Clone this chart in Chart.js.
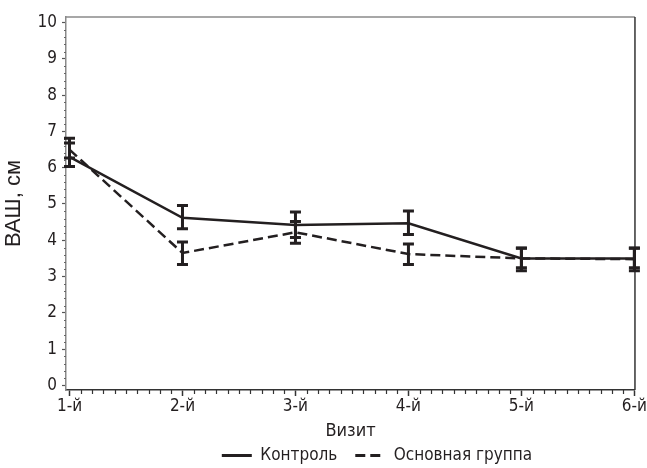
<!DOCTYPE html>
<html lang="ru">
  <head>
    <meta charset="UTF-8" />
    <title>ВАШ по визитам</title>
    <script src="https://cdn.jsdelivr.net/npm/chart.js"></script>
    <style>
      html, body { margin: 0; padding: 0; background: #fff; }
      #wrap { width: 647px; height: 468px; }
    </style>
  </head>
  <body>
    <div id="wrap"><canvas id="vasChart" width="647" height="468"></canvas></div>
    <script>
      // visit labels on the x axis
      const visits = ["1-й", "2-й", "3-й", "4-й", "5-й", "6-й"];
      const yTicks = [0, 1, 2, 3, 4, 5, 6, 7, 8, 9, 10];

      // control group: mean and error bar ends
      const controlMean = [6.3, 4.62, 4.42, 4.47, 3.5, 3.5];
      const controlLow = [6.03, 4.32, 4.08, 4.16, 3.24, 3.24];
      const controlHigh = [6.68, 4.96, 4.78, 4.81, 3.79, 3.79];

      // main group
      const mainMean = [6.5, 3.65, 4.22, 3.62, 3.5, 3.48];
      const mainLow = [6.27, 3.33, 3.92, 3.33, 3.16, 3.16];
      const mainHigh = [6.81, 3.95, 4.52, 3.9, 3.78, 3.78];

      const ink = "#231f20";
      const fontFam = "'Liberation Sans Narrow', 'DejaVu Sans Condensed', sans-serif";

      function toPoints(arr) {
        return arr.map((v, i) => ({ x: i, y: v }));
      }

      // draws error bars, the top/right frame and minor ticks
      const extras = {
        id: "extras",
        afterLayout(chart) {
          // legend sits a bit right of centre in the original
          const lg = chart.legend;
          const dx = 58;
          lg.left += dx;
          lg.right += dx;
          lg.top = 429;
          lg.bottom = 468;
        },
        afterDatasetsDraw(chart) {
          const c = chart.ctx;
          const xs = chart.scales.x;
          const ys = chart.scales.y;
          const area = chart.chartArea;
          c.save();
          // frame
          c.lineWidth = 1.5;
          c.strokeStyle = "#8a8a8a";
          c.beginPath();
          c.moveTo(area.left, area.top);
          c.lineTo(area.right, area.top);
          c.stroke();
          c.strokeStyle = "#333";
          c.beginPath();
          c.moveTo(area.right, area.top);
          c.lineTo(area.right, area.bottom);
          c.stroke();
          // minor ticks y
          c.strokeStyle = "#666";
          c.lineWidth = 1;
          for (let v = 0; v <= 10.001; v += 0.2) {
            if (Math.abs(v - Math.round(v)) < 0.01) continue;
            const py = Math.round(ys.getPixelForValue(v)) + 0.5;
            c.beginPath();
            c.moveTo(area.left - 2, py);
            c.lineTo(area.left, py);
            c.stroke();
          }
          // minor ticks x
          c.strokeStyle = "#333";
          c.lineWidth = 1.2;
          for (let v = 0; v <= 5.001; v += 0.1) {
            if (Math.abs(v - Math.round(v)) < 0.01) continue;
            const px = Math.round(xs.getPixelForValue(v)) + 0.5;
            c.beginPath();
            c.moveTo(px, area.bottom);
            c.lineTo(px, area.bottom + 4);
            c.stroke();
          }
          // error bars
          const groups = [
            [controlLow, controlHigh],
            [mainLow, mainHigh],
          ];
          c.strokeStyle = ink;
          c.lineWidth = 3;
          c.setLineDash([]);
          groups.forEach(([lo, hi]) => {
            lo.forEach((l, i) => {
              const px = xs.getPixelForValue(i);
              const y1 = ys.getPixelForValue(l);
              const y2 = ys.getPixelForValue(hi[i]);
              c.beginPath();
              c.moveTo(px, y1);
              c.lineTo(px, y2);
              c.moveTo(px - 5.5, y1);
              c.lineTo(px + 5.5, y1);
              c.moveTo(px - 5.5, y2);
              c.lineTo(px + 5.5, y2);
              c.stroke();
            });
          });
          c.restore();
        },
      };

      new Chart(document.getElementById("vasChart"), {
        type: "line",
        data: {
          datasets: [
            {
              label: "Контроль",
              data: toPoints(controlMean),
              borderColor: ink,
              backgroundColor: ink,
              borderWidth: 2.5,
              pointRadius: 0,
              tension: 0,
              clip: false,
            },
            {
              label: "Основная группа",
              data: toPoints(mainMean),
              borderColor: ink,
              backgroundColor: ink,
              borderWidth: 2.5,
              borderDash: [10, 5],
              pointRadius: 0,
              tension: 0,
              clip: false,
            },
          ],
        },
        options: {
          responsive: false,
          animation: false,
          layout: { padding: { left: 0, top: 17, right: 9, bottom: 0 } },
          plugins: {
            tooltip: { enabled: false },
            legend: {
              position: "bottom",
              maxHeight: 21,
              labels: {
                color: ink,
                font: { family: fontFam, size: 17 },
                usePointStyle: true,
                pointStyle: "line",
                pointStyleWidth: 30,
                boxHeight: 6,
                padding: 18,
                generateLabels(chart) {
                  const items = Chart.defaults.plugins.legend.labels.generateLabels(chart);
                  items.forEach((it, i) => {
                    it.lineDash = chart.data.datasets[i].borderDash || [];
                    it.lineWidth = 3;
                    it.strokeStyle = ink;
                  });
                  return items;
                },
              },
            },
          },
          scales: {
            x: {
              type: "linear",
              min: -0.031,
              max: 5.005,
              afterBuildTicks(scale) {
                scale.ticks = visits.map((_, i) => ({ value: i }));
              },
              afterFit(scale) {
                scale.height = 57;
              },
              ticks: {
                color: ink,
                font: { family: fontFam, size: 17 },
                padding: 0,
                maxRotation: 0,
                callback: (v) => visits[v],
              },
              grid: {
                drawOnChartArea: false,
                tickLength: 6,
                tickColor: "#333",
                tickWidth: 1.5,
              },
              border: { display: true, color: "#333", width: 1.5 },
              title: {
                display: true,
                text: "Визит",
                color: ink,
                font: { family: fontFam, size: 18 },
                padding: { top: 0, bottom: 5 },
              },
            },
            y: {
              min: -0.125,
              max: 10.152,
              afterBuildTicks(scale) {
                scale.ticks = yTicks.map((v) => ({ value: v }));
              },
              afterFit(scale) {
                scale.width = 66;
              },
              ticks: {
                color: ink,
                font: { family: fontFam, size: 17 },
                padding: 5,
              },
              grid: {
                drawOnChartArea: false,
                tickLength: 4,
                tickColor: "#555",
                tickWidth: 1.2,
              },
              border: { display: true, color: "#8a8a8a", width: 1.5 },
              title: {
                display: true,
                text: "ВАШ, см",
                color: ink,
                font: { family: "'Liberation Sans', Arial, sans-serif", size: 22 },
                padding: { top: 1, bottom: 0 },
              },
            },
          },
        },
        plugins: [extras],
      });
    </script>
  </body>
</html>
